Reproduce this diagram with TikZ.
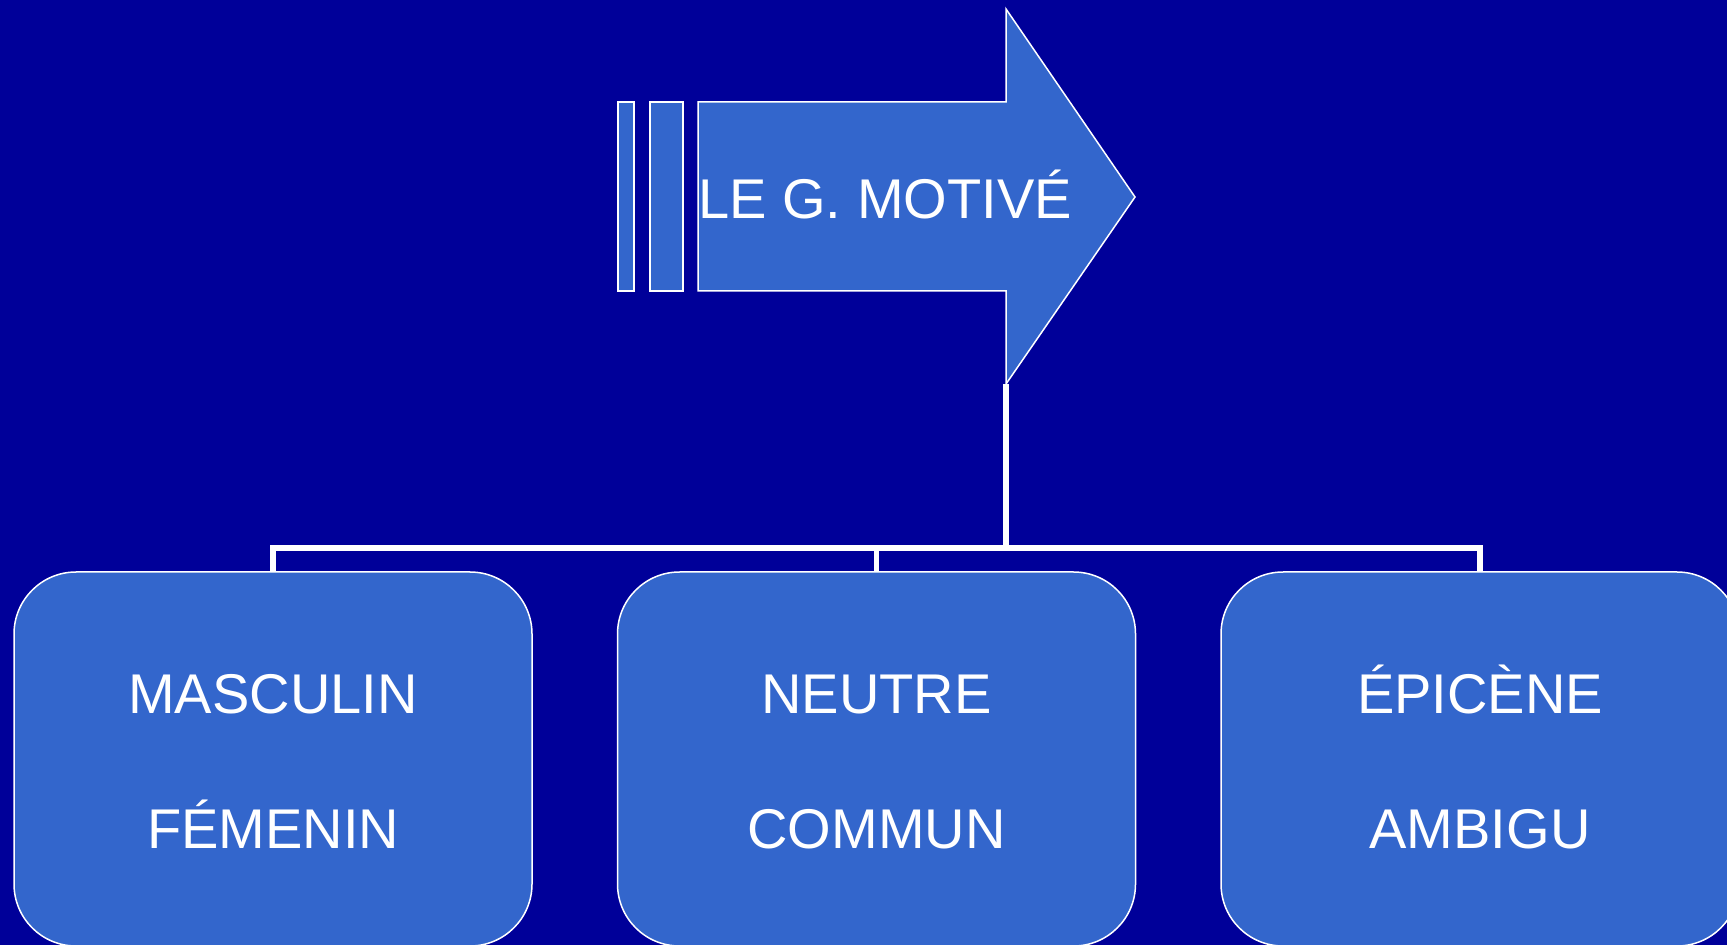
\documentclass[tikz,border=0pt]{standalone}
\usepackage{fontspec}
\setmainfont{Liberation Sans}
\definecolor{bgblue}{RGB}{0,0,153}
\definecolor{boxblue}{RGB}{51,102,204}
\tikzset{
  shapefill/.style={fill=boxblue, draw=white, line width=0.75pt},
  genbox/.style={shapefill, rounded corners=31pt, minimum width=259pt, minimum height=187pt, inner sep=0pt},
  conn/.style={draw=white, line width=2.9pt, line join=miter},
  lbl/.style={text=white, font=\fontsize{28}{33}\selectfont, anchor=base, inner sep=0pt}
}
\begin{document}
\begin{tikzpicture}[x=0.5pt, y=-0.5pt]
\fill[bgblue] (0,0) rectangle (1727,945);
\useasboundingbox (0,0) rectangle (1727,945);

% arrow with two bars
\path[shapefill] (618,102) rectangle (634,291);
\path[shapefill] (650,102) rectangle (683,291);
\path[shapefill] (698,102) -- (1006,102) -- (1006,9) -- (1135,197) -- (1006,384) -- (1006,291) -- (698,291) -- cycle;
\node[lbl] (title) at (885,218.3) {LE G. MOTIVÉ};

\coordinate (tail) at (1006,384);
\coordinate (hub) at (1006,548);

% boxes
\node[genbox] (b1) at (273,759) {};
\node[genbox] (b2) at (876.5,759) {};
\node[genbox] (b3) at (1480,759) {};

% connectors
\path[conn] (tail) -- (hub);
\path[conn] (b1.north) |- (hub);
\path[conn] (b2.north) |- (hub);
\path[conn] (b3.north) |- (hub);

\node[lbl] (t1a) at (273,713.3) {MASCULIN};
\node[lbl] (t1b) at (273,848.3) {FÉMENIN};
\node[lbl] (t2a) at (876.5,713.3) {NEUTRE};
\node[lbl] (t2b) at (876.5,848.3) {COMMUN};
\node[lbl] (t3a) at (1480,713.3) {ÉPICÈNE};
\node[lbl] (t3b) at (1480,848.3) {AMBIGU};
\end{tikzpicture}
\end{document}
